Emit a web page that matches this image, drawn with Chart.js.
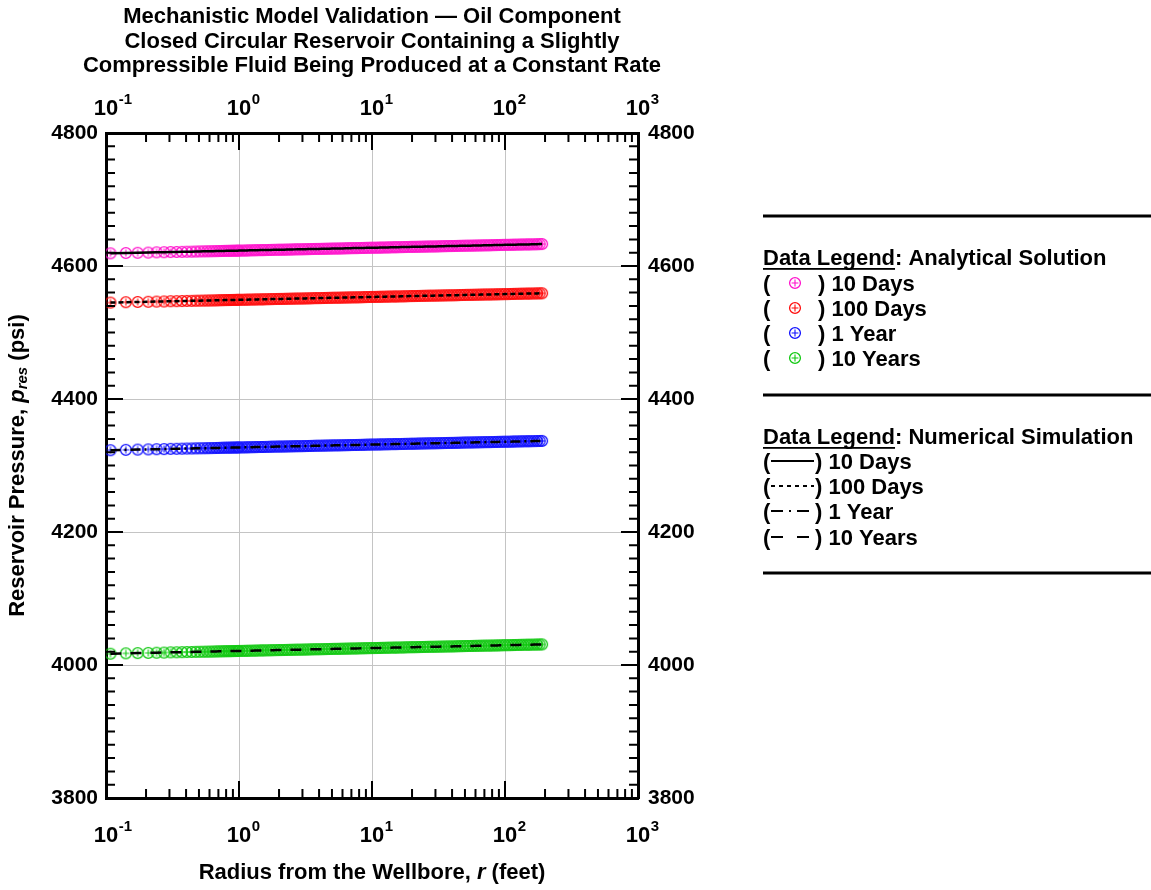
<!DOCTYPE html>
<html>
<head>
<meta charset="utf-8">
<title>Mechanistic Model Validation — Oil Component</title>
<script src="https://cdn.jsdelivr.net/npm/chart.js@4.4.1/dist/chart.umd.min.js"></script>
<style>
  html, body { margin: 0; padding: 0; background: #fff; }
  #wrap { width: 1151px; height: 890px; }
</style>
</head>
<body>
<div id="wrap"><canvas id="chart" width="1151" height="890"></canvas></div>
<script>
// radius from the wellbore (ft), shared by every series
const radiusFt = [
  0.108, 0.141, 0.173, 0.208, 0.240, 0.273, 0.306, 0.340, 0.373, 0.406,
  0.440, 0.473, 0.506, 0.540, 0.573, 0.606, 0.640, 0.673, 0.706, 0.740,
  0.773, 0.806, 0.840, 0.873, 0.906, 0.940, 0.973,
  1.00, 1.05, 1.10, 1.15, 1.20, 1.26, 1.32, 1.38, 1.45, 1.51,
  1.58, 1.66, 1.74, 1.82, 1.91, 2.00, 2.09, 2.19, 2.29, 2.40,
  2.51, 2.63, 2.75, 2.88, 3.02, 3.16, 3.31, 3.47, 3.63, 3.80,
  3.98, 4.17, 4.37, 4.57, 4.79, 5.01, 5.25, 5.50, 5.75, 6.03,
  6.31, 6.61, 6.92, 7.24, 7.59, 7.94, 8.32, 8.71, 9.12, 9.55,
  10.0, 10.5, 11.0, 11.5, 12.0, 12.6, 13.2, 13.8, 14.5, 15.1,
  15.8, 16.6, 17.4, 18.2, 19.1, 20.0, 20.9, 21.9, 22.9, 24.0,
  25.1, 26.3, 27.5, 28.8, 30.2, 31.6, 33.1, 34.7, 36.3, 38.0,
  39.8, 41.7, 43.7, 45.7, 47.9, 50.1, 52.5, 55.0, 57.5, 60.3,
  63.1, 66.1, 69.2, 72.4, 75.9, 79.4, 83.2, 87.1, 91.2, 95.5,
  100, 105, 110, 115, 120, 126, 132, 138, 145, 151,
  158, 166, 174, 182, 190
];

// reservoir pressure (psi), same order as radiusFt
const p10Days = [
  4619.0, 4619.5, 4619.9, 4620.2, 4620.5, 4620.7, 4621.0, 4621.1, 4621.3, 4621.5,
  4621.6, 4621.8, 4621.9, 4622.0, 4622.1, 4622.2, 4622.3, 4622.4, 4622.5, 4622.6,
  4622.7, 4622.8, 4622.8, 4622.9, 4623.0, 4623.0, 4623.1,
  4623.2, 4623.2, 4623.3, 4623.4, 4623.5, 4623.6, 4623.7, 4623.8, 4623.9, 4623.9,
  4624.0, 4624.1, 4624.2, 4624.3, 4624.4, 4624.5, 4624.5, 4624.6, 4624.7, 4624.8,
  4624.9, 4625.0, 4625.1, 4625.1, 4625.2, 4625.3, 4625.4, 4625.5, 4625.6, 4625.7,
  4625.7, 4625.8, 4625.9, 4626.0, 4626.1, 4626.2, 4626.3, 4626.3, 4626.4, 4626.5,
  4626.6, 4626.7, 4626.8, 4626.9, 4626.9, 4627.0, 4627.1, 4627.2, 4627.3, 4627.4,
  4627.5, 4627.5, 4627.6, 4627.7, 4627.8, 4627.9, 4628.0, 4628.1, 4628.2, 4628.2,
  4628.3, 4628.4, 4628.5, 4628.6, 4628.7, 4628.8, 4628.8, 4628.9, 4629.0, 4629.1,
  4629.2, 4629.3, 4629.4, 4629.4, 4629.5, 4629.6, 4629.7, 4629.8, 4629.9, 4630.0,
  4630.0, 4630.1, 4630.2, 4630.3, 4630.4, 4630.5, 4630.6, 4630.6, 4630.7, 4630.8,
  4630.9, 4631.0, 4631.1, 4631.2, 4631.2, 4631.3, 4631.4, 4631.5, 4631.6, 4631.7,
  4631.8, 4631.8, 4631.9, 4632.0, 4632.1, 4632.2, 4632.3, 4632.4, 4632.5, 4632.5,
  4632.6, 4632.7, 4632.8, 4632.9, 4633.0
];
const p100Days = [
  4545.0, 4545.5, 4545.9, 4546.2, 4546.5, 4546.7, 4547.0, 4547.1, 4547.3, 4547.5,
  4547.6, 4547.8, 4547.9, 4548.0, 4548.1, 4548.2, 4548.3, 4548.4, 4548.5, 4548.6,
  4548.7, 4548.8, 4548.8, 4548.9, 4549.0, 4549.0, 4549.1,
  4549.2, 4549.2, 4549.3, 4549.4, 4549.5, 4549.6, 4549.7, 4549.8, 4549.9, 4549.9,
  4550.0, 4550.1, 4550.2, 4550.3, 4550.4, 4550.5, 4550.5, 4550.6, 4550.7, 4550.8,
  4550.9, 4551.0, 4551.1, 4551.1, 4551.2, 4551.3, 4551.4, 4551.5, 4551.6, 4551.7,
  4551.7, 4551.8, 4551.9, 4552.0, 4552.1, 4552.2, 4552.3, 4552.3, 4552.4, 4552.5,
  4552.6, 4552.7, 4552.8, 4552.9, 4552.9, 4553.0, 4553.1, 4553.2, 4553.3, 4553.4,
  4553.5, 4553.5, 4553.6, 4553.7, 4553.8, 4553.9, 4554.0, 4554.1, 4554.2, 4554.2,
  4554.3, 4554.4, 4554.5, 4554.6, 4554.7, 4554.8, 4554.8, 4554.9, 4555.0, 4555.1,
  4555.2, 4555.3, 4555.4, 4555.4, 4555.5, 4555.6, 4555.7, 4555.8, 4555.9, 4556.0,
  4556.0, 4556.1, 4556.2, 4556.3, 4556.4, 4556.5, 4556.6, 4556.6, 4556.7, 4556.8,
  4556.9, 4557.0, 4557.1, 4557.2, 4557.2, 4557.3, 4557.4, 4557.5, 4557.6, 4557.7,
  4557.8, 4557.8, 4557.9, 4558.0, 4558.1, 4558.2, 4558.3, 4558.4, 4558.5, 4558.5,
  4558.6, 4558.7, 4558.8, 4558.9, 4559.0
];
const p1Year = [
  4323.0, 4323.5, 4323.9, 4324.2, 4324.5, 4324.7, 4325.0, 4325.1, 4325.3, 4325.5,
  4325.6, 4325.8, 4325.9, 4326.0, 4326.1, 4326.2, 4326.3, 4326.4, 4326.5, 4326.6,
  4326.7, 4326.8, 4326.8, 4326.9, 4327.0, 4327.0, 4327.1,
  4327.2, 4327.2, 4327.3, 4327.4, 4327.5, 4327.6, 4327.7, 4327.8, 4327.9, 4327.9,
  4328.0, 4328.1, 4328.2, 4328.3, 4328.4, 4328.5, 4328.5, 4328.6, 4328.7, 4328.8,
  4328.9, 4329.0, 4329.1, 4329.1, 4329.2, 4329.3, 4329.4, 4329.5, 4329.6, 4329.7,
  4329.7, 4329.8, 4329.9, 4330.0, 4330.1, 4330.2, 4330.3, 4330.3, 4330.4, 4330.5,
  4330.6, 4330.7, 4330.8, 4330.9, 4330.9, 4331.0, 4331.1, 4331.2, 4331.3, 4331.4,
  4331.5, 4331.5, 4331.6, 4331.7, 4331.8, 4331.9, 4332.0, 4332.1, 4332.2, 4332.2,
  4332.3, 4332.4, 4332.5, 4332.6, 4332.7, 4332.8, 4332.8, 4332.9, 4333.0, 4333.1,
  4333.2, 4333.3, 4333.4, 4333.4, 4333.5, 4333.6, 4333.7, 4333.8, 4333.9, 4334.0,
  4334.0, 4334.1, 4334.2, 4334.3, 4334.4, 4334.5, 4334.6, 4334.6, 4334.7, 4334.8,
  4334.9, 4335.0, 4335.1, 4335.2, 4335.2, 4335.3, 4335.4, 4335.5, 4335.6, 4335.7,
  4335.8, 4335.8, 4335.9, 4336.0, 4336.1, 4336.2, 4336.3, 4336.4, 4336.5, 4336.5,
  4336.6, 4336.7, 4336.8, 4336.9, 4337.0
];
const p10Years = [
  4017.0, 4017.5, 4017.9, 4018.2, 4018.5, 4018.7, 4019.0, 4019.1, 4019.3, 4019.5,
  4019.6, 4019.8, 4019.9, 4020.0, 4020.1, 4020.2, 4020.3, 4020.4, 4020.5, 4020.6,
  4020.7, 4020.8, 4020.8, 4020.9, 4021.0, 4021.0, 4021.1,
  4021.2, 4021.2, 4021.3, 4021.4, 4021.5, 4021.6, 4021.7, 4021.8, 4021.9, 4021.9,
  4022.0, 4022.1, 4022.2, 4022.3, 4022.4, 4022.5, 4022.5, 4022.6, 4022.7, 4022.8,
  4022.9, 4023.0, 4023.1, 4023.1, 4023.2, 4023.3, 4023.4, 4023.5, 4023.6, 4023.7,
  4023.7, 4023.8, 4023.9, 4024.0, 4024.1, 4024.2, 4024.3, 4024.3, 4024.4, 4024.5,
  4024.6, 4024.7, 4024.8, 4024.9, 4024.9, 4025.0, 4025.1, 4025.2, 4025.3, 4025.4,
  4025.5, 4025.5, 4025.6, 4025.7, 4025.8, 4025.9, 4026.0, 4026.1, 4026.2, 4026.2,
  4026.3, 4026.4, 4026.5, 4026.6, 4026.7, 4026.8, 4026.8, 4026.9, 4027.0, 4027.1,
  4027.2, 4027.3, 4027.4, 4027.4, 4027.5, 4027.6, 4027.7, 4027.8, 4027.9, 4028.0,
  4028.0, 4028.1, 4028.2, 4028.3, 4028.4, 4028.5, 4028.6, 4028.6, 4028.7, 4028.8,
  4028.9, 4029.0, 4029.1, 4029.2, 4029.2, 4029.3, 4029.4, 4029.5, 4029.6, 4029.7,
  4029.8, 4029.8, 4029.9, 4030.0, 4030.1, 4030.2, 4030.3, 4030.4, 4030.5, 4030.5,
  4030.6, 4030.7, 4030.8, 4030.9, 4031.0
];

const seriesNames = ['10 Days', '100 Days', '1 Year', '10 Years'];
const xDecades = [0.1, 1, 10, 100, 1000];
const xExponents = ['-1', '0', '1', '2', '3'];
const yMin = 3800, yMax = 4800, yStep = 200, yMinorStep = 20;

const FONT = '"Liberation Sans", Arial, Helvetica, sans-serif';
const markerColors = ['#ff10cc', '#ff0a0a', '#1010ff', '#10c810'];
const simDash = [[], [5, 3], [10, 4, 2, 4], [11, 9]];
const legendDash = [[], [4, 4], [12, 6, 2, 6], [12, 14]];
const pressures = [p10Days, p100Days, p1Year, p10Years];

function makeMarker(color) {
    const c = document.createElement('canvas');
    c.width = 14; c.height = 14;
    const g = c.getContext('2d');
    g.strokeStyle = color;
    g.lineWidth = 1.3;
    g.beginPath(); g.arc(7, 7, 5.4, 0, Math.PI * 2); g.stroke();
    g.lineWidth = 1.1;
    g.beginPath();
    g.moveTo(7, 3.6); g.lineTo(7, 10.4);
    g.moveTo(3.6, 7); g.lineTo(10.4, 7);
    g.stroke();
    return c;
}
const markers = markerColors.map(makeMarker);

const datasets = [];
seriesNames.forEach(function (name, i) {
    const pts = radiusFt.map((r, k) => ({ x: r, y: pressures[i][k] }));
    datasets.push({
        label: name + ' (analytical)', data: pts, showLine: false,
        pointStyle: markers[i], pointRadius: 7, order: 2
    });
    datasets.push({
        label: name + ' (numerical)', data: pts, showLine: true,
        borderColor: '#000', borderWidth: 2.5, borderDash: simDash[i],
        pointRadius: 0, fill: false, order: 1
    });
});

// draw text made of several styled pieces
function drawRuns(ctx, runs, x, y, center) {
    let w = 0;
    runs.forEach(r => { ctx.font = r.font; w += ctx.measureText(r.t).width; });
    let cx = center ? x - w / 2 : x;
    runs.forEach(r => {
        ctx.font = r.font;
        const rw = ctx.measureText(r.t).width;
        ctx.fillText(r.t, cx, y + (r.dy || 0));
        if (r.u) {
            ctx.fillRect(cx, y + 3, rw, 1.8);
        }
        cx += rw;
    });
}

const decorPlugin = {
    id: 'decor',
    afterDraw(chart) {
        const ctx = chart.ctx;
        const a = chart.chartArea;
        const xs = chart.scales.x, ys = chart.scales.y;
        ctx.save();

        // inward tick marks on all four sides
        ctx.strokeStyle = '#000';
        ctx.lineWidth = 2;
        ctx.beginPath();
        for (let p = yMin + yMinorStep; p < yMax; p += yMinorStep) {
            const y = ys.getPixelForValue(p);
            const len = (p % yStep === 0) ? 17 : 9;
            ctx.moveTo(a.left, y); ctx.lineTo(a.left + len, y);
            ctx.moveTo(a.right, y); ctx.lineTo(a.right - len, y);
        }
        for (let d = 0; d < xDecades.length - 1; d++) {
            for (let m = 1; m < 10; m++) {
                if (m === 1 && d === 0) continue;
                const x = xs.getPixelForValue(xDecades[d] * m);
                const len = m === 1 ? 17 : 9;
                ctx.moveTo(x, a.bottom); ctx.lineTo(x, a.bottom - len);
                ctx.moveTo(x, a.top); ctx.lineTo(x, a.top + len);
            }
        }
        ctx.stroke();

        // decade labels, top and bottom
        ctx.fillStyle = '#000';
        ctx.textBaseline = 'alphabetic';
        ctx.textAlign = 'left';
        xDecades.forEach(function (v, i) {
            const x = xs.getPixelForValue(v);
            ctx.font = 'bold 22px ' + FONT;
            const w10 = ctx.measureText('10').width;
            [115, 842].forEach(function (base) {
                ctx.font = 'bold 22px ' + FONT;
                ctx.fillText('10', x - w10 / 2, base);
                ctx.font = 'bold 15px ' + FONT;
                ctx.fillText(xExponents[i], x + w10 / 2 + 0.5, base - 11);
            });
        });

        // title
        const midX = (a.left + a.right) / 2;
        ctx.textAlign = 'center';
        ctx.textBaseline = 'middle';
        ctx.font = 'bold 22px ' + FONT;
        ctx.fillText('Mechanistic Model Validation \u2014 Oil Component', midX, 17);
        ctx.fillText('Closed Circular Reservoir Containing a Slightly', midX, 42);
        ctx.fillText('Compressible Fluid Being Produced at a Constant Rate', midX, 66);

        // axis titles
        ctx.textAlign = 'left';
        ctx.textBaseline = 'middle';
        const bold = 'bold 22px ' + FONT;
        drawRuns(ctx, [
            { t: 'Radius from the Wellbore, ', font: bold },
            { t: 'r', font: 'italic bold 22px ' + FONT },
            { t: ' (feet)', font: bold }
        ], midX, 873, true);

        ctx.save();
        ctx.translate(18, (a.top + a.bottom) / 2);
        ctx.rotate(-Math.PI / 2);
        drawRuns(ctx, [
            { t: 'Reservoir Pressure, ', font: bold },
            { t: 'p', font: 'italic bold 22px ' + FONT },
            { t: 'res', font: 'italic bold 15px ' + FONT, dy: 5 },
            { t: ' (psi)', font: bold }
        ], 0, 0, true);
        ctx.restore();

        // legend on the right
        const lx = 763, rx = 1151;
        ctx.fillStyle = '#000';
        ctx.fillRect(lx, 214.5, rx - lx, 3);
        ctx.fillRect(lx, 393.5, rx - lx, 3);
        ctx.fillRect(lx, 571.5, rx - lx, 3);

        ctx.textBaseline = 'alphabetic';
        const lf = 'bold 22px ' + FONT;
        drawRuns(ctx, [{ t: 'Data Legend', font: lf, u: true }, { t: ': Analytical Solution', font: lf }], lx, 265, false);
        drawRuns(ctx, [{ t: 'Data Legend', font: lf, u: true }, { t: ': Numerical Simulation', font: lf }], lx, 444, false);

        const rowsA = [283, 308, 333, 358];
        const rowsN = [461, 486, 511, 537];
        seriesNames.forEach(function (name, i) {
            ctx.font = lf;
            ctx.fillText('(', lx, rowsA[i] + 8);
            ctx.fillText(') ' + name, 818, rowsA[i] + 8);
            ctx.drawImage(markers[i], 795 - 7, rowsA[i] - 7);

            ctx.fillText('(', lx, rowsN[i] + 8);
            ctx.fillText(') ' + name, 815, rowsN[i] + 8);
            ctx.save();
            ctx.strokeStyle = '#000';
            ctx.lineWidth = 2.2;
            ctx.setLineDash(legendDash[i]);
            ctx.beginPath();
            ctx.moveTo(771, rowsN[i]);
            ctx.lineTo(814, rowsN[i]);
            ctx.stroke();
            ctx.restore();
        });

        ctx.restore();
    }
};

const gridGray = '#c4c4c4';

new Chart(document.getElementById('chart'), {
    type: 'scatter',
    data: { datasets: datasets },
    options: {
        responsive: false,
        animation: false,
        devicePixelRatio: 1,
        events: [],
        layout: { padding: 0 },
        plugins: { legend: { display: false }, title: { display: false }, tooltip: { enabled: false } },
        scales: {
            x: {
                type: 'logarithmic', position: 'bottom', min: 0.1, max: 1000,
                afterBuildTicks: s => { s.ticks = xDecades.map(v => ({ value: v })); },
                afterFit: s => { s.height = 92; },
                ticks: { display: false },
                grid: { color: gridGray, lineWidth: 1, drawTicks: false },
                border: { color: '#000', width: 3 }
            },
            x2: {
                type: 'logarithmic', position: 'top', axis: 'x', min: 0.1, max: 1000,
                afterBuildTicks: s => { s.ticks = xDecades.map(v => ({ value: v })); },
                afterFit: s => { s.height = 133; },
                ticks: { display: false },
                grid: { drawOnChartArea: false, drawTicks: false },
                border: { color: '#000', width: 3 }
            },
            y: {
                type: 'linear', position: 'left', min: yMin, max: yMax,
                afterFit: s => { s.width = 106; },
                ticks: {
                    stepSize: yStep, padding: 8, color: '#000',
                    font: { family: FONT, weight: 'bold', size: 21 },
                    callback: v => String(v)
                },
                grid: { color: gridGray, lineWidth: 1, drawTicks: false },
                border: { color: '#000', width: 3 }
            },
            y2: {
                type: 'linear', position: 'right', axis: 'y', min: yMin, max: yMax,
                afterFit: s => { s.width = 513; },
                ticks: {
                    stepSize: yStep, padding: 10, color: '#000',
                    font: { family: FONT, weight: 'bold', size: 21 },
                    callback: v => String(v)
                },
                grid: { drawOnChartArea: false, drawTicks: false },
                border: { color: '#000', width: 3 }
            }
        }
    },
    plugins: [decorPlugin]
});
</script>
</body>
</html>
